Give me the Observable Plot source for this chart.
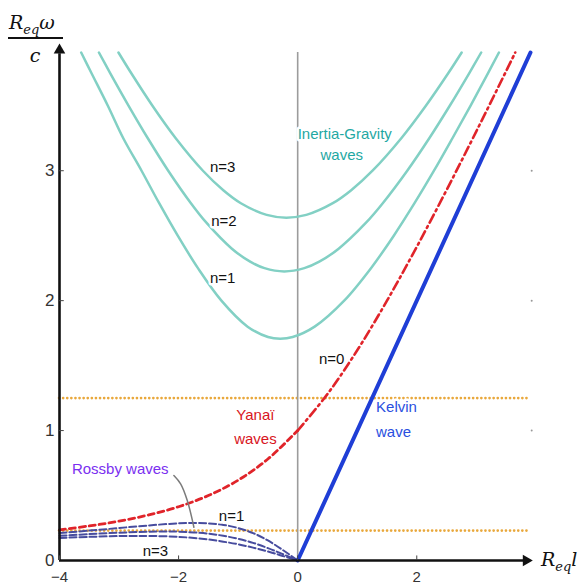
<!DOCTYPE html>
<html><head><meta charset="utf-8">
<script src="https://cdn.jsdelivr.net/npm/d3@7"></script>
<script src="https://cdn.jsdelivr.net/npm/@observablehq/plot@0.6"></script>
<style>body{margin:0;background:#fff}#chart{width:585px;height:585px}</style>
</head><body><div id="chart"></div>
<script>
// [k, omega] points
const igN1 = [[-3.636,3.91],[-3.462,3.75],[-3.188,3.5],[-2.929,3.25],[-2.622,3.0],[-2.326,2.75],[-2.014,2.5],[-1.675,2.25],[-1.281,2.0],[-0.841,1.8],[-0.498,1.72],[-0.293,1.707],[-0.084,1.72],[0.285,1.8],[0.781,2.0],[1.231,2.25],[1.614,2.5],[1.962,2.75],[2.289,3.0],[2.599,3.25],[2.902,3.5],[3.195,3.75],[3.380,3.91]];
const igN2 = [[-3.338,3.91],[-3.147,3.75],[-2.839,3.5],[-2.517,3.25],[-2.174,3.0],[-1.793,2.75],[-1.533,2.6],[-1.105,2.4],[-0.798,2.3],[-0.557,2.25],[-0.225,2.225],[0.112,2.25],[0.363,2.3],[0.688,2.4],[1.148,2.6],[1.429,2.75],[1.840,3.0],[2.210,3.25],[2.554,3.5],[2.880,3.75],[3.082,3.91]];
const igN3 = [[-3.010,3.91],[-2.794,3.75],[-2.439,3.5],[-2.048,3.25],[-1.591,3.0],[-1.249,2.85],[-0.954,2.75],[-0.521,2.66],[-0.190,2.639],[0.145,2.66],[0.590,2.75],[0.899,2.85],[1.257,3.0],[1.740,3.25],[2.153,3.5],[2.528,3.75],[2.754,3.91]];
const yanaiWest = [[-4,0.236],[-3.5,0.266],[-3,0.303],[-2.5,0.351],[-2,0.414],[-1.5,0.5],[-1,0.618],[-0.5,0.781],[0,1.0]];
const yanaiEast = [[0,1.0],[0.5,1.281],[1,1.618],[1.5,2.0],[2,2.414],[2.5,2.851],[3,3.303],[3.5,3.766],[3.654,3.91]];
const rossbyN1 = [[-4,0.211],[-3.5,0.230],[-3,0.25],[-2.5,0.270],[-2,0.286],[-1.75,0.289],[-1.5,0.286],[-1.25,0.274],[-1,0.25],[-0.75,0.211],[-0.5,0.154],[-0.25,0.081],[0,0]];
const rossbyN2 = [[-4,0.190],[-3.5,0.203],[-3,0.214],[-2.5,0.222],[-2.236,0.224],[-2,0.222],[-1.5,0.207],[-1.25,0.190],[-1,0.167],[-0.75,0.136],[-0.5,0.095],[-0.25,0.049],[0,0]];
const rossbyN3 = [[-4,0.174],[-3.5,0.182],[-3,0.188],[-2.65,0.189],[-2.5,0.189],[-2,0.182],[-1.5,0.162],[-1.25,0.145],[-1,0.125],[-0.75,0.099],[-0.5,0.069],[-0.25,0.035],[0,0]];
const kelvin = [[0,0],[3.91,3.91]];
const forcingLevels = [1.25, 0.23];
const rossbyPointer = [[-2.079,0.654],[-1.966,0.590],[-1.854,0.462],[-1.743,0.256]];

const xTicks = [-4,-2,0,2];
const yTicks = [0,1,2,3];
const xDomain = [-4, 3.91];
const yDomain = [0, 3.91];

const labelText  = ["n=3","n=2","n=1","Inertia-Gravity","waves","n=0","Yanaï","waves","Kelvin","wave","Rossby waves","n=1","n=3"];
const labelK     = [-1.26,-1.24,-1.26,0.79,0.74,0.57,-0.71,-0.71,1.66,1.61,-2.98,-1.11,-2.39];
const labelW     = [3.03,2.61,2.17,3.285,3.123,1.546,1.115,0.931,1.177,0.99,0.70,0.338,0.069];
const labelColor = ["#111","#111","#111","#1fa8a3","#1fa8a3","#111","#d8151d","#d8151d","#2a4fe0","#2a4fe0","#7a2ff0","#111","#111"];

const labels = labelText.map((t,i)=>({t, k:labelK[i], w:labelW[i], c:labelColor[i]}));
const pts = a => a.map(([k,w])=>({k,w}));

const font = "Liberation Sans, Arial, sans-serif";
const lineOpts = {x:"k", y:"w", curve:"catmull-rom"};

const chart = Plot.plot({
  width:585, height:585,
  marginLeft:59, marginRight:55, marginTop:52, marginBottom:25,
  x:{domain:xDomain}, y:{domain:yDomain},
  style:{fontFamily:font, background:"#fff"},
  marks:[
    Plot.ruleY(forcingLevels, {x1:xDomain[0], x2:xDomain[1], stroke:"#e9a83c", strokeWidth:2.6, strokeDasharray:"0.1,4", strokeLinecap:"round"}),
    Plot.ruleX([0], {y1:yDomain[0], y2:yDomain[1], stroke:"#9c9c9c", strokeWidth:1.6}),
    Plot.line(pts(igN1), {...lineOpts, stroke:"#82d0c4", strokeWidth:2.5}),
    Plot.line(pts(igN2), {...lineOpts, stroke:"#82d0c4", strokeWidth:2.5}),
    Plot.line(pts(igN3), {...lineOpts, stroke:"#82d0c4", strokeWidth:2.5}),
    Plot.line(pts(rossbyN1), {...lineOpts, stroke:"#474c9e", strokeWidth:2, strokeDasharray:"7,3"}),
    Plot.line(pts(rossbyN2), {...lineOpts, stroke:"#474c9e", strokeWidth:2, strokeDasharray:"7,3"}),
    Plot.line(pts(rossbyN3), {...lineOpts, stroke:"#474c9e", strokeWidth:2, strokeDasharray:"7,3"}),
    Plot.line(pts(yanaiWest), {...lineOpts, stroke:"#e0242a", strokeWidth:2.8, strokeDasharray:"6,4"}),
    Plot.line(pts(yanaiEast), {...lineOpts, stroke:"#e0242a", strokeWidth:2.6, strokeDasharray:"9,4,2,4"}),
    Plot.line(pts(kelvin), {x:"k", y:"w", stroke:"#1f3ed6", strokeWidth:4}),
    Plot.text(labels, {x:"k", y:"w", text:"t", fill:"c", stroke:"white", strokeWidth:5, paintOrder:"stroke", fontSize:15, fontFamily:font}),
    Plot.line(pts(rossbyPointer), {...lineOpts, stroke:"#7b7b7b", strokeWidth:1.5}),
    // axis lines, inward ticks, arrow heads
    Plot.ruleY([0], {x1:xDomain[0], x2:3.82, stroke:"#111", strokeWidth:2.6}),
    Plot.ruleX([xDomain[0]], {y1:0, y2:3.9, stroke:"#111", strokeWidth:2.6}),
    Plot.ruleX(xTicks, {y1:0, y2:0.035, stroke:"#444", strokeWidth:1}),
    Plot.ruleY(yTicks.slice(1), {x1:xDomain[0], x2:-3.92, stroke:"#444", strokeWidth:1}),
    Plot.dot(yTicks.slice(1), {x:3.93, y:d=>d, r:1, fill:"#999", stroke:null}),
    Plot.dot([{k:3.837, w:0}], {x:"k", y:"w", symbol:"triangle", rotate:90, r:4.3, fill:"#111", stroke:null}),
    Plot.dot([{k:-4, w:3.928}], {x:"k", y:"w", symbol:"triangle", r:4.3, fill:"#111", stroke:null}),
    Plot.axisX({ticks:xTicks, tickSize:0, tickPadding:11, fontSize:15, fill:"#333", label:null}),
    Plot.axisY({ticks:yTicks, tickSize:0, tickPadding:5, fontSize:17, fill:"#333", label:null, tickFormat:d3.format("d")})
  ]
});
document.getElementById("chart").appendChild(chart);

// axis titles
const svg = d3.select(chart);
const g = svg.append("g").attr("font-family","DejaVu Serif, serif").attr("font-style","italic").attr("fill","#111").attr("text-anchor","start");
const t1 = g.append("text").attr("x",9).attr("y",29).attr("font-size",19);
t1.append("tspan").text("R");
t1.append("tspan").attr("font-size",13).attr("dy",5).text("eq");
t1.append("tspan").attr("dy",-5).text("ω");
g.append("line").attr("x1",8).attr("x2",63).attr("y1",38).attr("y2",38).attr("stroke","#111").attr("stroke-width",2);
g.append("text").attr("x",35).attr("y",62).attr("font-size",19).attr("text-anchor","middle").text("c");
const t2 = g.append("text").attr("x",541).attr("y",566).attr("font-size",19);
t2.append("tspan").text("R");
t2.append("tspan").attr("font-size",13).attr("dy",5).text("eq");
t2.append("tspan").attr("dy",-5).text("l");
</script>
</body></html>
